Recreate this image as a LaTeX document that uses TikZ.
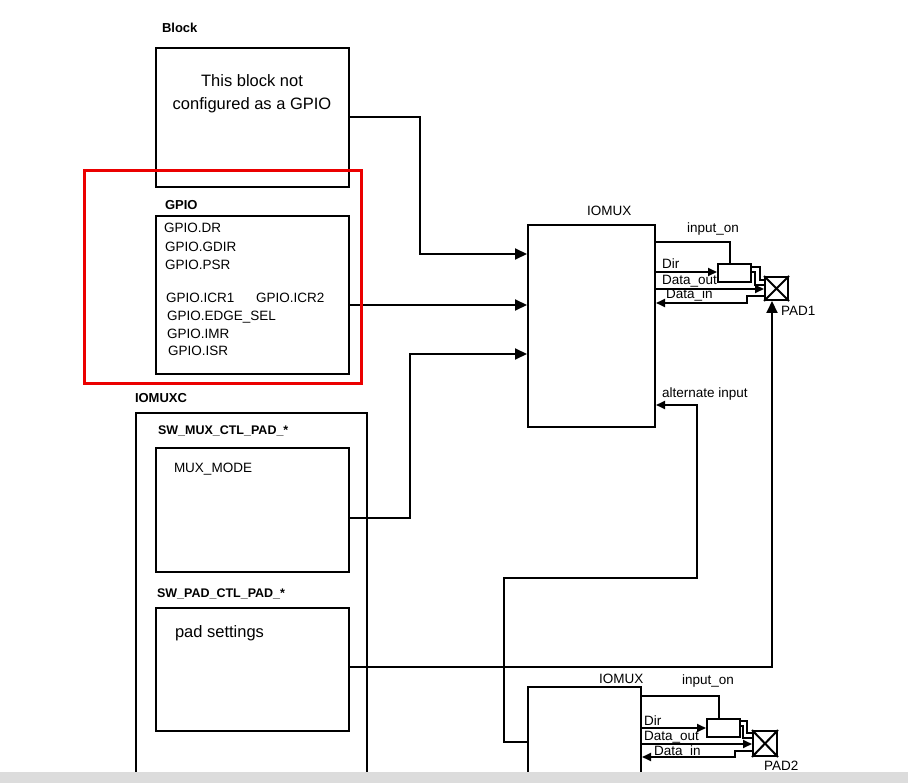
\documentclass[tikz,border=0pt]{standalone}
\usepackage{fontspec}
\setmainfont{Liberation Sans}
\usetikzlibrary{arrows.meta,calc}
\definecolor{barcol}{RGB}{220,220,220}
\definecolor{redbox}{RGB}{235,0,0}
\begin{document}
\begin{tikzpicture}[x=1pt,y=-1pt, line width=2pt,
  box/.style={draw, rectangle, inner sep=0pt, line width=2pt},
  lbl/.style={anchor=base west, inner sep=0pt, font=\fontsize{13.5}{15}\selectfont},
  slbl/.style={anchor=base west, inner sep=0pt, font=\fontsize{13.5}{15}\selectfont},
  blbl/.style={anchor=base west, inner sep=0pt, font=\fontsize{13}{15}\selectfont\bfseries},
  biglbl/.style={anchor=base, inner sep=0pt, font=\fontsize{16.5}{19}\selectfont},
  bigarrow/.style={-{Triangle[length=12pt,width=11pt]}},
  smallarrow/.style={-{Triangle[length=9pt,width=8pt]}},
  wire/.style={line width=2pt},
]
\useasboundingbox (0,0) rectangle (908,783);

% ---- boxes ----
\node[box, minimum width=193, minimum height=139] (blk) at (252.5,117.5) {};
\node[box, minimum width=193, minimum height=158] (gpio) at (252.5,295) {};
\node[box, minimum width=127, minimum height=202] (iomux) at (591.5,326) {};
\node[box, minimum width=231, minimum height=387] (iomuxc) at (251.5,606.5) {};
\node[box, minimum width=193, minimum height=124] (mux) at (252.5,510) {};
\node[box, minimum width=193, minimum height=123] (padctl) at (252.5,669.5) {};
\node[box, minimum width=113, minimum height=113] (iomuxb) at (584.5,743.5) {};
\node[box, minimum width=33, minimum height=18] (buf) at (734.5,273) {};
\node[box, minimum width=23, minimum height=23] (pad) at (776.5,288.5) {};
\node[box, minimum width=33, minimum height=18] (bufb) at (723.5,728) {};
\node[box, minimum width=24, minimum height=25] (padb) at (765,743.5) {};
\draw[wire] (pad.north west) -- (pad.south east) (pad.north east) -- (pad.south west);
\draw[wire] (padb.north west) -- (padb.south east) (padb.north east) -- (padb.south west);

% ---- labels ----
\node[blbl] (tblock) at (161,33) {Block};
\node[biglbl] (t1) at (252,87) {This block not};
\node[biglbl] (t2) at (252,110) {configured as a GPIO};
\node[blbl] (tgpio) at (164,210) {GPIO};
\node[slbl] (g1) at (163,233) {GPIO.DR};
\node[slbl] (g2) at (164,252) {GPIO.GDIR};
\node[slbl] (g3) at (164,270) {GPIO.PSR};
\node[slbl] (g4) at (165,303) {GPIO.ICR1};
\node[slbl] (g5) at (255,303) {GPIO.ICR2};
\node[slbl] (g6) at (166,321) {GPIO.EDGE\_SEL};
\node[slbl] (g7) at (166,339) {GPIO.IMR};
\node[slbl] (g8) at (167,356) {GPIO.ISR};
\node[lbl] (tiomux) at (586,216) {IOMUX};
\node[lbl] (tin) at (686,233) {input\_on};
\node[lbl] (tdir) at (661,269) {Dir};
\node[lbl] (tdo) at (661,285) {Data\_out};
\node[lbl] (tdi) at (665,299) {Data\_in};
\node[lbl] (tpad) at (780,316) {PAD1};
\node[lbl] (talt) at (661,398) {alternate input};
\node[blbl] (tiomuxc) at (134,403) {IOMUXC};
\node[blbl, font=\fontsize{12.5}{15}\selectfont\bfseries] (tmuxctl) at (157,435) {SW\_MUX\_CTL\_PAD\_*};
\node[slbl] (tmuxmode) at (173,472) {MUX\_MODE};
\node[blbl, font=\fontsize{12.5}{15}\selectfont\bfseries] (tpadctl) at (156,597) {SW\_PAD\_CTL\_PAD\_*};
\node[anchor=base west, inner sep=0pt, font=\fontsize{16.5}{19}\selectfont] (tpadset) at (174,637) {pad settings};
\node[lbl] (tiomuxb) at (598,683) {IOMUX};
\node[lbl] (tinb) at (681,684) {input\_on};
\node[lbl] (tdirb) at (643,725) {Dir};
\node[lbl] (tdob) at (643,740) {Data\_out};
\node[lbl] (tdib) at (653,755) {Data\_in};
\node[lbl] (tpadb) at (763,770) {PAD2};

% ---- connectors: left side into IOMUX ----
\coordinate (in1) at (iomux.west |- 0,254);
\coordinate (in2) at (iomux.west |- 0,305);
\coordinate (in3) at (iomux.west |- 0,354);
\draw[wire, bigarrow] (blk.east) -| (420,254) -- (in1);
\draw[wire, bigarrow] (gpio.east |- in2) -- (in2);
\draw[wire, bigarrow] ($(mux.east)+(0,8)$) -| (410,354) -- (in3);

% ---- IOMUX 1 right side ----
\draw[wire] (iomux.east |- 0,242) -| (buf.north -| 730,0);
\draw[wire, smallarrow] (iomux.east |- 0,272) -- (buf.west |- 0,272);
\draw[wire, smallarrow] (iomux.east |- 0,289) -- (pad.west |- 0,289);
\draw[wire, smallarrow] (pad.west |- 0,296) -- (747,296) -- (747,303) -- (iomux.east |- 0,303);
\draw[wire] (buf.east |- 0,267) -- (760,267) -- (760,280) -- (pad.west |- 0,280);
\draw[wire] (buf.east |- 0,272) -- (755,272) -- (755,285) -- (pad.west |- 0,285);
\draw[wire, bigarrow] (padctl.east |- 0,667) -| (pad.south -| 772,0);
\draw[wire, smallarrow] (iomuxb.west |- 0,742) -- (504,742) -- (504,578) -- (697,578) -- (697,405) -- (iomux.east |- 0,405);

% ---- IOMUX 2 right side ----
\draw[wire] (iomuxb.east |- 0,696) -| (bufb.north -| 719,0);
\draw[wire, smallarrow] (iomuxb.east |- 0,728) -- (bufb.west);
\draw[wire, smallarrow] (iomuxb.east |- 0,744) -- (padb.west |- 0,744);
\draw[wire, smallarrow] (padb.west |- 0,751) -- (735,751) -- (735,757) -- (iomuxb.east |- 0,757);
\draw[wire] (bufb.east |- 0,721) -- (747,721) -- (747,733) -- (padb.west |- 0,733);
\draw[wire] (bufb.east |- 0,726) -- (743,726) -- (743,738) -- (padb.west |- 0,738);

% ---- red highlight ----
\draw[redbox, line width=3pt] (84,171) rectangle (361,384);

% ---- bottom bar ----
\fill[barcol] (0,772) rectangle (908,783);
\end{tikzpicture}
\end{document}
